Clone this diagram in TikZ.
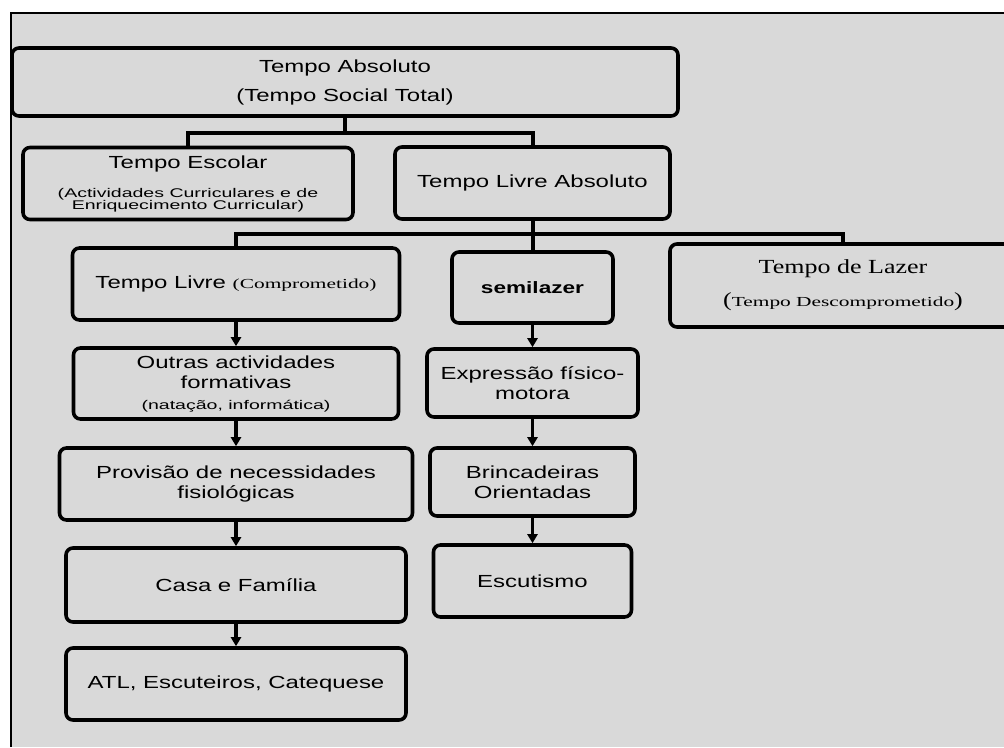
\documentclass[tikz,border=0pt]{standalone}
\usepackage{fontspec}
\setmainfont{Liberation Sans}[FakeStretch=1.37]
\newfontfamily\sansmiuda{Liberation Sans}[FakeStretch=1.55]
\newfontfamily\serifgrande{Liberation Serif}[FakeStretch=1.3]
\newfontfamily\serifmiuda{Liberation Serif}[FakeStretch=1.55]
\usetikzlibrary{arrows.meta}
\definecolor{fundo}{HTML}{D9D9D9}
\newcommand{\grande}{\fontsize{17.5}{20}\selectfont}
\newcommand{\miudo}{\sansmiuda\fontsize{12.6}{12}\selectfont}
\newcommand{\miudoserif}{\serifmiuda\fontsize{13.8}{13}\selectfont}

\begin{document}
\begin{tikzpicture}[x=1pt, y=-1pt,
        caixa/.style={draw, line width=3.6pt, rounded corners=7pt, align=center,
            inner sep=0pt, font=\grande},
        liga/.style={line width=4pt},
        seta/.style={line width=3.6pt, -{Triangle[length=9pt, width=10pt]}}]

    \useasboundingbox (0,0) rectangle (1004,747);
    \begin{scope}
        \clip (0,0) rectangle (1004,747);

        % Draw the grey panel
        \fill[fundo] (10,12) rectangle (1004,747);
        \draw[line width=2.4pt] (11,747) -- (11,13) -- (1004,13);

        % Top level
        \node[caixa, minimum width=666pt, minimum height=68pt] (abs) at (345,82)
            {Tempo Absoluto\\[9pt] (Tempo Social Total)};

        % Second level
        \node[caixa, minimum width=330pt, minimum height=72pt] (esc) at (188,183.5)
            {Tempo Escolar\\[9pt] \miudo (Actividades Curriculares e de\\[-8pt]
             \miudo Enriquecimento Curricular)};
        \node[caixa, minimum width=275pt, minimum height=72pt] (tla) at (532.5,183)
            {Tempo Livre Absoluto};

        % Third level
        \node[caixa, minimum width=327pt, minimum height=72pt] (tl) at (236,284)
            {Tempo Livre {\miudoserif (Comprometido)}};
        \node[caixa, minimum width=161pt, minimum height=71pt] (semi) at (532.5,287.5)
            {\fontsize{16.5}{20}\selectfont\bfseries semilazer};
        \node[caixa, font=\serifgrande\fontsize{20}{24}\selectfont,
            minimum width=346pt, minimum height=83pt] (lazer) at (843,285.5)
            {Tempo de Lazer\\[9pt] ({\miudoserif Tempo Descomprometido})};

        % Left column
        \node[caixa, minimum width=325pt, minimum height=71pt] (outras) at (236,383.5)
            {Outras actividades\\ formativas\\[1pt] \miudo (natação, informática)};
        \node[caixa, minimum width=353pt, minimum height=72pt] (prov) at (236,484)
            {Provisão de necessidades\\ fisiológicas};
        \node[caixa, minimum width=340pt, minimum height=74pt] (casa) at (236,585)
            {Casa e Família};
        \node[caixa, minimum width=340pt, minimum height=72pt] (atl) at (236,684)
            {ATL, Escuteiros, Catequese};

        % Middle column
        \node[caixa, minimum width=211pt, minimum height=68pt] (expr) at (532.5,383)
            {Expressão físico-\\ motora};
        \node[caixa, minimum width=205pt, minimum height=68pt] (brinc) at (532.5,482)
            {Brincadeiras\\ Orientadas};
        \node[caixa, minimum width=198pt, minimum height=72pt] (escut) at (532.5,581)
            {Escutismo};

        % Links from Tempo Absoluto
        \coordinate (j1) at (345,133);
        \draw[liga] (abs.south) -- (j1);
        \draw[liga] (esc.north) |- (j1) -| (tla.north);

        % Links from Tempo Livre Absoluto
        \coordinate (j2) at (532.5,234);
        \draw[liga] (tla.south) -- (semi.north);
        \draw[liga] (tl.north) |- (j2) -| (lazer.north);

        % Arrows down the columns
        \draw[seta] (tl.south) -- (outras.north);
        \draw[seta] (outras.south) -- (prov.north);
        \draw[seta] (prov.south) -- (casa.north);
        \draw[seta] (casa.south) -- (atl.north);
        \draw[seta] (semi.south) -- (expr.north);
        \draw[seta] (expr.south) -- (brinc.north);
        \draw[seta] (brinc.south) -- (escut.north);
    \end{scope}

\end{tikzpicture}
\end{document}
